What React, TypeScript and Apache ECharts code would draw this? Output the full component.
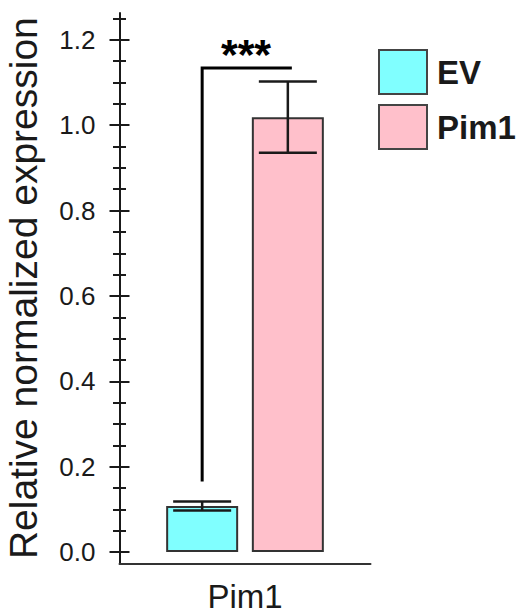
import React, { useEffect, useRef } from "react";
import * as echarts from "echarts";

// Data
const CATEGORIES = ["Pim1"];
const SERIES_NAMES = ["EV", "Pim1"];
const MEANS = [0.108, 1.019];
const ERRORS = [0.0105, 0.0835];
const BAR_COLORS = ["#80FFFF", "#FFC0CB"];
const Y_MAJOR = [0, 0.2, 0.4, 0.6, 0.8, 1.0, 1.2];
const Y_MINOR = [0.05, 0.1, 0.15, 0.25, 0.3, 0.35, 0.45, 0.5, 0.55, 0.65, 0.7, 0.75, 0.85, 0.9, 0.95, 1.05, 1.1, 1.15, 1.25];
const BRACKET_RANGE = [0.165, 1.134];
const STAR_VALUE = 1.166;
const STARS = "***";
const Y_NAME = "Relative normalized expression";

// Layout / style
const Y_MIN = -0.0265;
const Y_MAX = 1.263;
const BAR_W = 72;
const BAR_GAP = 0.19;
const CAP_W = 58;
const FONT = "Arial, 'Liberation Sans', sans-serif";
const INK = "#1a1a1a";

const barOffset = (i: number) => (i - (SERIES_NAMES.length - 1) / 2) * BAR_W * (1 + BAR_GAP);

export default function App() {
  const ref = useRef<HTMLDivElement>(null);

  useEffect(() => {
    if (!ref.current) return;
    const chart = echarts.init(ref.current, undefined, { renderer: "svg" });

    const yBase: any = {
      type: "value",
      min: Y_MIN,
      max: Y_MAX,
      position: "left",
      splitLine: { show: false },
      axisLine: { show: false },
      axisLabel: { show: false },
    };
    const tickLine = { color: INK, width: 2 };

    const barSeries = SERIES_NAMES.map((name, i) => ({
      name,
      type: "bar",
      data: [MEANS[i]],
      barWidth: BAR_W,
      barGap: `${BAR_GAP * 100}%`,
      itemStyle: { color: BAR_COLORS[i], borderColor: "#333", borderWidth: 2 },
      z: 2,
    }));

    const errorData = SERIES_NAMES.map((_, i) => [0, MEANS[i], ERRORS[i], i]);

    const option: any = {
      animation: false,
      textStyle: { fontFamily: FONT },
      grid: { left: 119.5, right: 148.5, top: 13, bottom: 51.7, containLabel: false },
      legend: {
        data: SERIES_NAMES,
        orient: "vertical",
        left: 378,
        top: 49,
        padding: 0,
        icon: "rect",
        itemWidth: 48,
        itemHeight: 44,
        itemGap: 9,
        itemStyle: { borderColor: "#444", borderWidth: 2 },
        textStyle: { fontSize: 33, fontWeight: "bold", color: INK, fontFamily: FONT, padding: [0, 0, 0, 5] },
      },
      xAxis: [
        {
          type: "category",
          data: CATEGORIES,
          position: "bottom",
          axisLine: { onZero: false, lineStyle: { color: "#333", width: 2 } },
          axisTick: { alignWithLabel: true, length: 10, lineStyle: { color: INK, width: 3 } },
          axisLabel: { fontSize: 33, color: INK, margin: 17, fontFamily: FONT },
        },
        {
          type: "category",
          data: CATEGORIES,
          position: "bottom",
          axisLine: { show: false, onZero: false },
          axisTick: { alignWithLabel: true, inside: true, length: 6, lineStyle: { color: INK, width: 3 } },
          axisLabel: { show: false },
        },
      ],
      yAxis: [
        {
          ...yBase,
          axisLine: { show: true, lineStyle: { color: INK, width: 2 } },
          axisTick: { show: true, customValues: Y_MAJOR, length: 10, lineStyle: tickLine },
          axisLabel: {
            show: true,
            customValues: Y_MAJOR,
            formatter: (v: number) => v.toFixed(1),
            margin: 24,
            fontSize: 26,
            color: INK,
            fontFamily: FONT,
          },
          name: Y_NAME,
          nameLocation: "middle",
          nameRotate: 90,
          nameGap: 77,
          nameTextStyle: { fontSize: 39, color: INK, fontFamily: FONT },
        },
        { ...yBase, axisTick: { show: true, customValues: Y_MAJOR, inside: true, length: 10, lineStyle: tickLine } },
        { ...yBase, axisTick: { show: true, customValues: Y_MINOR, length: 6.5, lineStyle: tickLine } },
        { ...yBase, axisTick: { show: true, customValues: Y_MINOR, inside: true, length: 6.5, lineStyle: tickLine } },
      ],
      series: [
        ...barSeries,
        {
          name: "errors",
          type: "custom",
          z: 5,
          data: errorData,
          renderItem: (_params: any, api: any) => {
            const ci = api.value(0);
            const m = api.value(1);
            const e = api.value(2);
            const bi = api.value(3);
            const top = api.coord([ci, m + e]);
            const bot = api.coord([ci, m - e]);
            const x = top[0] + barOffset(bi);
            const style = { stroke: INK, lineWidth: 2.5 };
            return {
              type: "group",
              children: [
                { type: "line", shape: { x1: x, y1: top[1], x2: x, y2: bot[1] }, style },
                { type: "line", shape: { x1: x - CAP_W / 2, y1: top[1], x2: x + CAP_W / 2, y2: top[1] }, style },
                { type: "line", shape: { x1: x - CAP_W / 2, y1: bot[1], x2: x + CAP_W / 2, y2: bot[1] }, style },
              ],
            };
          },
        },
        {
          name: "significance",
          type: "custom",
          z: 6,
          data: [[0, BRACKET_RANGE[0], BRACKET_RANGE[1], STAR_VALUE]],
          renderItem: (_params: any, api: any) => {
            const ci = api.value(0);
            const low = api.coord([ci, api.value(1)]);
            const high = api.coord([ci, api.value(2)]);
            const star = api.coord([ci, api.value(3)]);
            const xl = low[0] + barOffset(0);
            const xr = low[0] + barOffset(1) + 4;
            return {
              type: "group",
              children: [
                {
                  type: "polyline",
                  shape: { points: [[xl, low[1]], [xl, high[1]], [xr, high[1]]] },
                  style: { stroke: "#000", lineWidth: 3, fill: null },
                },
                {
                  type: "text",
                  x: star[0] + 1,
                  y: star[1],
                  style: {
                    text: STARS,
                    fontSize: 43,
                    fontWeight: "bold",
                    fontFamily: FONT,
                    fill: "#000",
                    align: "center",
                    verticalAlign: "middle",
                    textAlign: "center",
                    textVerticalAlign: "middle",
                  },
                },
              ],
            };
          },
        },
      ],
    };

    chart.setOption(option);
    return () => chart.dispose();
  }, []);

  return (
    <div
      ref={ref}
      style={{ position: "fixed", left: 0, top: 0, width: 519, height: 615, background: "#fff" }}
    />
  );
}
